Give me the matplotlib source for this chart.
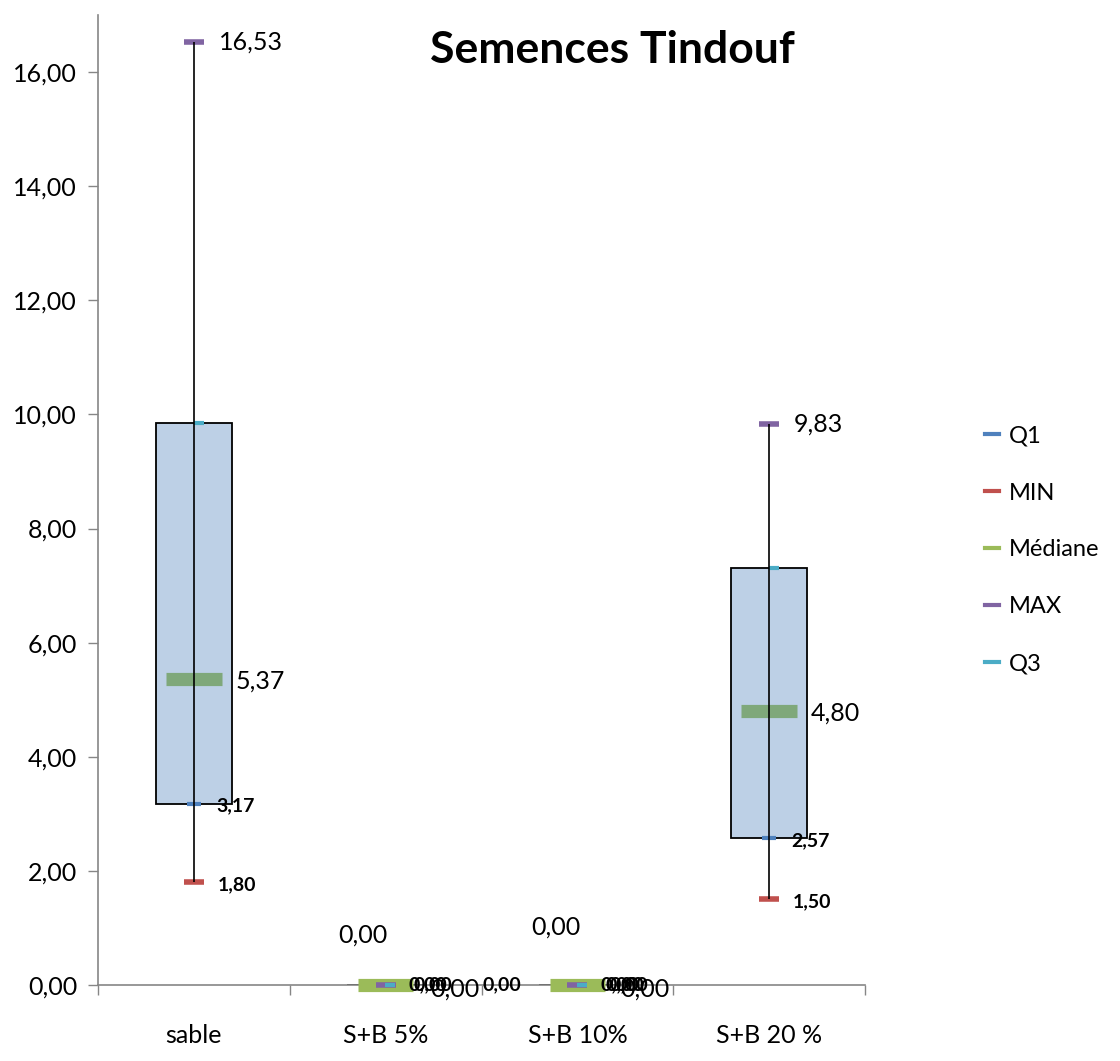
import matplotlib
matplotlib.use("Agg")
import matplotlib.pyplot as plt
from matplotlib.lines import Line2D
from matplotlib import font_manager

categories = ["sable", "S+B 5%", "S+B 10%", "S+B 20 %"]
q1 = [3.17, 0.00, 0.00, 2.57]
vmin = [1.80, 0.00, 0.00, 1.50]
median = [5.37, 0.00, 0.00, 4.80]
vmax = [16.53, 0.00, 0.00, 9.83]
q3 = [9.85, 0.00, 0.00, 7.31]
yticks = [0, 2, 4, 6, 8, 10, 12, 14, 16]
title = "Semences Tindouf"

names = {f.name for f in font_manager.fontManager.ttflist}
FONT = "Lato" if "Lato" in names else "DejaVu Sans"
plt.rcParams["font.family"] = [FONT, "DejaVu Sans"]

C_Q1 = "#4F81BD"
C_MIN = "#C0504D"
C_MED = "#9BBB59"
C_MED_IN = "#7FA87A"
C_MAX = "#8064A2"
C_Q3 = "#4BACC6"

fig = plt.figure(figsize=(11.2, 10.61), dpi=100)
ax = fig.add_axes([98 / 1120, 1 - 985 / 1061, (865 - 98) / 1120, (985 - 15) / 1061])

x = list(range(len(categories)))

# boxes (Q1 -> Q3)
heights = [b - a for a, b in zip(q1, q3)]
ax.bar(x, heights, bottom=q1, width=0.4, color="#BDD0E6", edgecolor="black",
       linewidth=1.3, zorder=2)

# markers: Q1 and MIN under the median, MAX and Q3 over it
ax.plot(x, vmin, ls="none", marker="_", ms=14, mew=4, color=C_MIN, zorder=3, clip_on=False)
ax.plot(x, q1, ls="none", marker="_", ms=10, mew=3, color=C_Q1, zorder=3, clip_on=False)
med_colors = [C_MED_IN if h > 0 else C_MED for h in heights]
ax.scatter(x, median, marker="_", s=40 ** 2, linewidths=9.5, c=med_colors,
           zorder=3.5, clip_on=False)
ax.plot(x, vmax, ls="none", marker="_", ms=14, mew=4, color=C_MAX, zorder=4, clip_on=False)
ax.plot([xi + 0.025 for xi in x], q3, ls="none", marker="_", ms=7, mew=3,
        color=C_Q3, zorder=4, clip_on=False)

# whiskers
ax.vlines(x, vmin, vmax, color="black", linewidth=1.2, zorder=5)


def fmt(v):
    return f"{v:.2f}".replace(".", ",")


def lab(xi, v, dx, dy, bold, ha="left"):
    ax.annotate(fmt(v), (xi, v), xytext=(dx, dy), textcoords="offset pixels",
                ha=ha, va="center", fontsize=14 if bold else 18,
                fontweight="bold" if bold else "normal", color="black",
                zorder=6, annotation_clip=False)


for i in x:
    if heights[i] > 0:
        lab(i, vmax[i], 25, 0, False)
        lab(i, median[i], 42, -2, False)
        lab(i, q1[i], 22, -2, True)
        lab(i, vmin[i], 24, -2, True)
    else:
        lab(i, vmax[i], -23 if i == 1 else -21, 50 if i == 1 else 58, False, ha="center")
        lab(i, vmin[i], 23, 0, True)
        lab(i, q1[i], 28, 0, True)
        lab(i, median[i], 45 if i == 1 else 43, -4, False)
        lab(i, q3[i], 97 if i == 1 else 32, 0, True)

ax.set_xlim(-0.5, len(categories) - 0.5)
ax.set_ylim(0, 17)
ax.set_yticks(yticks)
ax.set_yticklabels([fmt(v) for v in yticks])
ax.set_xticks(x)
ax.set_xticklabels(categories)
ax.set_xticks([i - 0.5 for i in range(len(categories) + 1)], minor=True)
ax.tick_params(axis="x", which="major", length=0, pad=28, labelsize=18)
ax.tick_params(axis="x", which="minor", length=7, color="#868686", width=1)
ax.tick_params(axis="y", length=7, color="#868686", width=1, pad=8, labelsize=18)

for s in ["top", "right"]:
    ax.spines[s].set_visible(False)
for s in ["left", "bottom"]:
    ax.spines[s].set_color("#868686")
    ax.spines[s].set_linewidth(1.2)

fig.text(612 / 1120, 1 - 50 / 1061, title, ha="center", va="center",
         fontsize=32, fontweight="bold")

handles = [
    Line2D([], [], color=C_Q1, lw=3),
    Line2D([], [], color=C_MIN, lw=3),
    Line2D([], [], color=C_MED, lw=3),
    Line2D([], [], color=C_MAX, lw=3),
    Line2D([], [], color=C_Q3, lw=3),
]
fig.legend(handles, ["Q1", "MIN", "Médiane", "MAX", "Q3"], loc="center left",
           bbox_to_anchor=(985 / 1120, 1 - 550 / 1061), frameon=False,
           fontsize=17, handlelength=0.6, handletextpad=0.4, labelspacing=1.52,
           borderpad=0, borderaxespad=0)

fig.savefig("out.png", dpi=100)
